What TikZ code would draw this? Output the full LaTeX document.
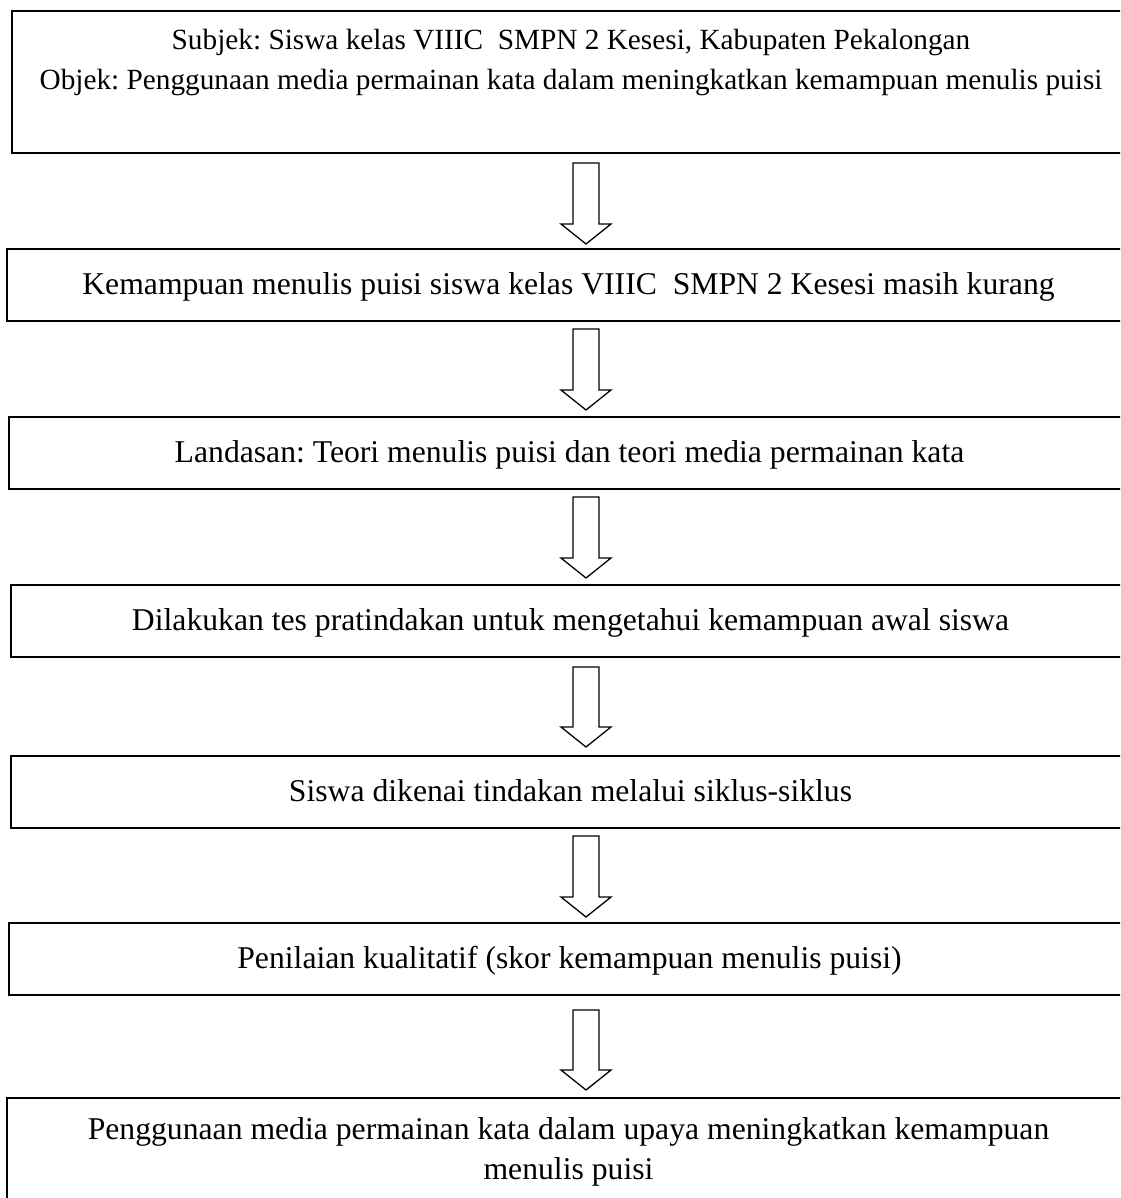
\documentclass[tikz,border=0pt]{standalone}
\usepackage{fontspec}
\setmainfont{Liberation Serif}
\frenchspacing
\newcommand\fatarrow[2]{\draw[fat] (573,#1) -- (599,#1) -- (599,{#2-20}) -- (611,{#2-20}) -- (586,#2) -- (561,{#2-20}) -- (573,{#2-20}) -- cycle;}
\begin{document}
\frenchspacing
\begin{tikzpicture}[x=0.5pt,y=-0.5pt,
  box/.style={draw,line width=1pt,rectangle,inner sep=0pt,outer sep=0pt,anchor=north west},
  bigtxt/.style={font=\fontsize{15.84pt}{20pt}\selectfont,anchor=base,inner sep=0pt},
  smalltxt/.style={font=\fontsize{14.64pt}{20pt}\selectfont,anchor=base,inner sep=0pt},
  fat/.style={draw,line width=0.65pt,line join=miter}]
\useasboundingbox (0,0) rectangle (1120,1198);
\clip (0,0) rectangle (1120,1198);
% boxes
\node[box,minimum width=559pt,minimum height=71pt] (b1) at (12,11) {};
\node[box,minimum width=561.5pt,minimum height=36pt] (b2) at (7,249) {};
\node[box,minimum width=560.5pt,minimum height=36pt] (b3) at (9,417) {};
\node[box,minimum width=559.5pt,minimum height=36pt] (b4) at (11,585) {};
\node[box,minimum width=559.5pt,minimum height=36pt] (b5) at (11,756) {};
\node[box,minimum width=560.5pt,minimum height=36pt] (b6) at (9,923) {};
\node[box,minimum width=561.5pt,minimum height=60pt] (b7) at (7,1098) {};
% texts
\node[smalltxt] (t1a) at (571,50) {Subjek: Siswa kelas VIIIC\ \ SMPN 2 Kesesi, Kabupaten Pekalongan};
\node[smalltxt] (t1b) at (571,90) {Objek: Penggunaan media permainan kata dalam meningkatkan kemampuan menulis puisi};
\node[bigtxt] (t2) at (568.5,294) {Kemampuan menulis puisi siswa kelas VIIIC\ \ SMPN 2 Kesesi masih kurang};
\node[bigtxt] (t3) at (569.5,462) {Landasan: Teori menulis puisi dan teori media permainan kata};
\node[bigtxt] (t4) at (570.5,630) {Dilakukan tes pratindakan untuk mengetahui kemampuan awal siswa};
\node[bigtxt] (t5) at (570.5,801) {Siswa dikenai tindakan melalui siklus-siklus};
\node[bigtxt] (t6) at (569.5,968) {Penilaian kualitatif (skor kemampuan menulis puisi)};
\node[bigtxt] (t7a) at (568.5,1139) {Penggunaan media permainan kata dalam upaya meningkatkan kemampuan};
\node[bigtxt] (t7b) at (568.5,1179) {menulis puisi};
% arrows
\fatarrow{163}{244}
\fatarrow{329}{410}
\fatarrow{497}{578}
\fatarrow{667}{747}
\fatarrow{836}{917}
\fatarrow{1010}{1090}
\end{tikzpicture}
\end{document}
